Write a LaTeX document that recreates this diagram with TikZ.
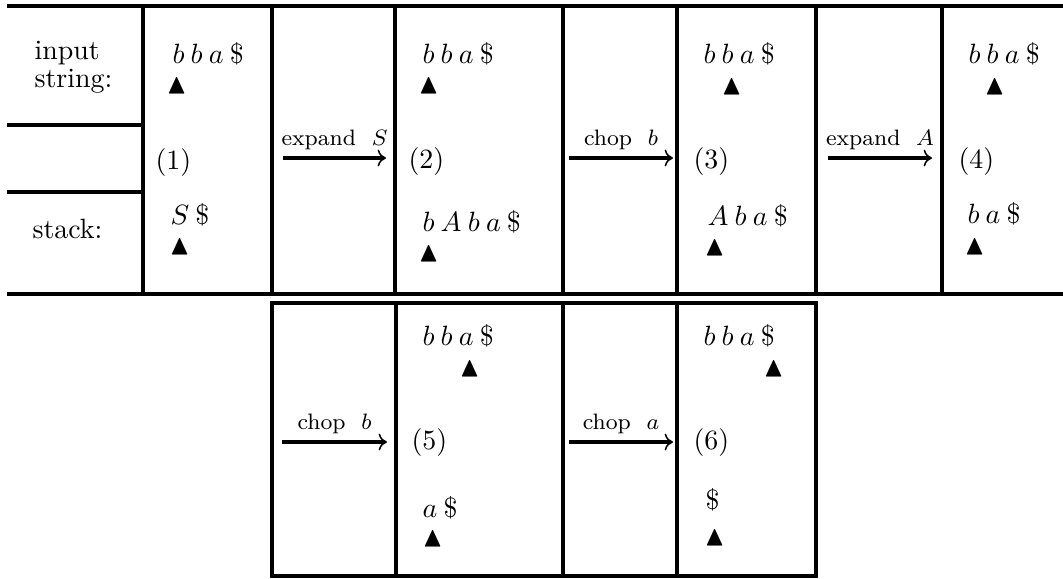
\documentclass[tikz,border=0pt]{standalone}
\usepackage{amssymb}
\usetikzlibrary{arrows.meta}
\newcommand\headmark{$\blacktriangle$}
\begin{document}
\begin{tikzpicture}[x=0.3584pt, y=-0.3584pt,
  rule/.style={line width=1.2pt},
  txt/.style={anchor=base west, inner sep=0pt},
  move/.style={line width=1.2pt, -{To[length=3pt,width=6pt,line width=0.55pt]}},
  movelabel/.style={above, inner sep=2.2pt, font=\footnotesize}]
\useasboundingbox (0,0) rectangle (1063,578);

% ---- upper table: rules ----
\draw[rule] (7,6) -- (1063,6);
\draw[rule] (7,294) -- (1063,294);
\draw[rule] (7,125) -- (143,125);
\draw[rule] (7,192) -- (143,192);
\foreach \x in {143,272,395,563,677,816,942}
  \draw[rule] (\x,6) -- (\x,294);

% ---- lower table: rules ----
\draw[rule] (272,303) rectangle (816,576);
\foreach \x in {396,563,677}
  \draw[rule] (\x,303) -- (\x,576);

% ---- row headings (base anchor = last line) ----
\node[txt, align=left] (hin) at (34,87) {input\\[-2pt]string:};
\node[txt] (hst) at (32,238) {stack:};

% ---- configuration (1) ----
\node[txt] (in1) at (172,63) {$b\:b\:a\:\$$};
\node[txt] (p1) at (166,93) {\headmark};
\node[txt] (n1) at (155,169) {(1)};
\node[txt] (st1) at (170,224) {$S\:\$$};
\node[txt] (q1) at (169,254) {\headmark};

% ---- configuration (2) ----
\node[txt] (in2) at (422,63) {$b\:b\:a\:\$$};
\node[txt] (p2) at (418,93) {\headmark};
\node[txt] (n2) at (408,168) {(2)};
\node[txt] (st2) at (422,231) {$b\:A\:b\:a\:\$$};
\node[txt] (q2) at (418,261) {\headmark};

% ---- configuration (3) ----
\node[txt] (in3) at (703,63) {$b\:b\:a\:\$$};
\node[txt] (p3) at (721,94) {\headmark};
\node[txt] (n3) at (693,168) {(3)};
\node[txt] (st3) at (707,225) {$A\:b\:a\:\$$};
\node[txt] (q3) at (704,255) {\headmark};

% ---- configuration (4) ----
\node[txt] (in4) at (968,63) {$b\:b\:a\:\$$};
\node[txt] (p4) at (984,94) {\headmark};
\node[txt] (n4) at (958,168) {(4)};
\node[txt] (st4) at (967,223) {$b\:a\:\$$};
\node[txt] (q4) at (964,254) {\headmark};

% ---- configuration (5) ----
\node[txt] (in5) at (422,345) {$b\:b\:a\:\$$};
\node[txt] (p5) at (459,376) {\headmark};
\node[txt] (n5) at (411,449) {(5)};
\node[txt] (st5) at (422,517) {$a\:\$$};
\node[txt] (q5) at (422,546) {\headmark};

% ---- configuration (6) ----
\node[txt] (in6) at (703,345) {$b\:b\:a\:\$$};
\node[txt] (p6) at (763,376) {\headmark};
\node[txt] (n6) at (693,449) {(6)};
\node[txt] (st6) at (705,509) {$\$$};
\node[txt] (q6) at (704,545) {\headmark};

% ---- moves ----
\coordinate (m1a) at (283,158); \coordinate (m1b) at (386,158);
\coordinate (m2a) at (569,158); \coordinate (m2b) at (673,158);
\coordinate (m3a) at (828,158); \coordinate (m3b) at (932,158);
\coordinate (m4a) at (282,442); \coordinate (m4b) at (387,442);
\coordinate (m5a) at (569,442); \coordinate (m5b) at (673,442);

\draw[move] (m1a) -- node[movelabel] (l1) {expand\ \ $S$} (m1b);
\draw[move] (m2a) -- node[movelabel] (l2) {chop\ \ $b$} (m2b);
\draw[move] (m3a) -- node[movelabel] (l3) {expand\ \ $A$} (m3b);
\draw[move] (m4a) -- node[movelabel] (l4) {chop\ \ $b$} (m4b);
\draw[move] (m5a) -- node[movelabel] (l5) {chop\ \ $a$} (m5b);
\end{tikzpicture}
\end{document}
